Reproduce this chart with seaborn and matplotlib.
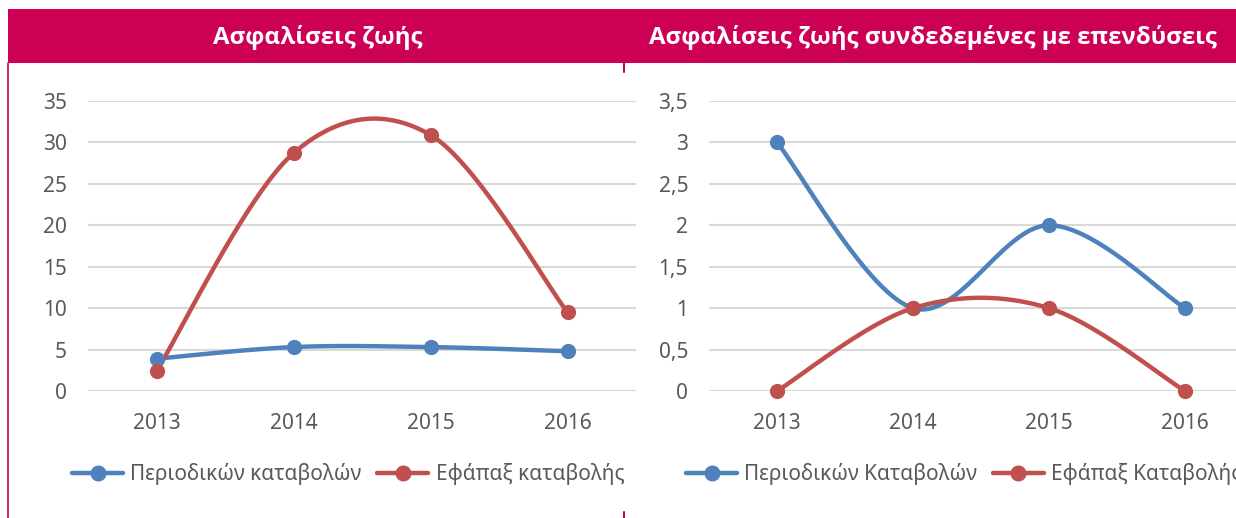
import numpy as np
import matplotlib
matplotlib.use('Agg')
import matplotlib.pyplot as plt
from matplotlib.lines import Line2D
from matplotlib.patches import Rectangle
import seaborn as sns

# data
years = ['2013', '2014', '2015', '2016']
life_periodic = [3.9, 5.3, 5.3, 4.8]
life_single = [2.4, 28.7, 30.9, 9.5]
unit_periodic = [3, 1, 2, 1]
unit_single = [0, 1, 1, 0]

left_title = 'Ασφαλίσεις ζωής'
right_title = 'Ασφαλίσεις ζωής συνδεδεμένες με επενδύσεις'
left_labels = ['Περιοδικών καταβολών', 'Εφάπαξ καταβολής']
right_labels = ['Περιοδικών Καταβολών', 'Εφάπαξ Καταβολής']
left_ticks = [0, 5, 10, 15, 20, 25, 30, 35]
right_ticks = [0, 0.5, 1, 1.5, 2, 2.5, 3, 3.5]

BLUE = '#4F81BD'
RED = '#C0504D'
MAGENTA = '#CC0055'
GRID = '#D9D9D9'
TXT = '#595959'

sns.set_theme(style='white')
plt.rcParams['font.family'] = ['Noto Sans', 'DejaVu Sans']


def smooth(vals, n=40):
    # Excel-style smoothed line (Catmull-Rom through the points)
    x = np.arange(len(vals), dtype=float)
    y = np.asarray(vals, dtype=float)
    px = np.concatenate([[x[0]], x, [x[-1]]])
    py = np.concatenate([[y[0]], y, [y[-1]]])
    t = np.linspace(0, 1, n)[:, None]
    xs, ys = [], []
    for i in range(1, len(px) - 2):
        p0 = np.array([px[i - 1], py[i - 1]])
        p1 = np.array([px[i], py[i]])
        p2 = np.array([px[i + 1], py[i + 1]])
        p3 = np.array([px[i + 2], py[i + 2]])
        c1 = p1 + (p2 - p0) / 6
        c2 = p2 - (p3 - p1) / 6
        b = ((1 - t) ** 3) * p1 + 3 * ((1 - t) ** 2) * t * c1 + 3 * (1 - t) * t ** 2 * c2 + t ** 3 * p2
        xs.extend(b[:, 0])
        ys.extend(b[:, 1])
    return np.array(xs), np.array(ys)


def draw(ax, series, ticks, fmt):
    for vals, color in series:
        sx, sy = smooth(vals)
        sns.lineplot(x=sx, y=sy, sort=False, estimator=None, color=color, lw=3.2, ax=ax)
        sns.scatterplot(x=np.arange(len(vals)), y=vals, color=color, s=120,
                        edgecolor=color, linewidth=0, ax=ax, clip_on=False, zorder=5)
    ax.set_xlim(-0.5, 3.5)
    ax.set_ylim(ticks[0], ticks[-1])
    ax.set_yticks(ticks)
    ax.set_yticklabels([fmt(v) for v in ticks])
    ax.set_xticks(range(len(years)))
    ax.set_xticklabels(years)
    ax.grid(axis='y', color=GRID, lw=1.5)
    ax.set_axisbelow(True)
    for s in ax.spines.values():
        s.set_visible(False)
    ax.tick_params(length=0, labelsize=15, colors=TXT)
    ax.tick_params(axis='x', pad=16)
    ax.tick_params(axis='y', pad=15)
    ax.patch.set_alpha(0)


fig = plt.figure(figsize=(12.36, 5.18), dpi=100)
W, H = 1236, 518

ax1 = fig.add_axes([88 / W, (H - 391) / H, 548 / W, 290 / H])
ax2 = fig.add_axes([709 / W, (H - 391) / H, 544 / W, 290 / H])

draw(ax1, [(life_periodic, BLUE), (life_single, RED)], left_ticks, lambda v: f'{v:g}')
draw(ax2, [(unit_periodic, BLUE), (unit_single, RED)], right_ticks,
     lambda v: f'{v:g}'.replace('.', ','))

# header bar and frame lines
fig.add_artist(Rectangle((8 / W, (H - 63) / H), (W - 8) / W, 54 / H,
                         transform=fig.transFigure, color=MAGENTA, lw=0))
fig.add_artist(Line2D([8 / W, 8 / W], [0, (H - 63) / H], transform=fig.transFigure,
                      color=MAGENTA, lw=1.2))
fig.add_artist(Line2D([624 / W, 624 / W], [(H - 72) / H, (H - 63) / H],
                      transform=fig.transFigure, color=MAGENTA, lw=1.5))
fig.add_artist(Line2D([624 / W, 624 / W], [0, 6 / H],
                      transform=fig.transFigure, color=MAGENTA, lw=1.5))

head_font = ['Open Sans', 'Roboto', 'DejaVu Sans']
fig.text(318 / W, (H - 37) / H, left_title, color='white', fontsize=17.3,
         fontweight='bold', family=head_font, ha='center', va='center')
fig.text(933 / W, (H - 37) / H, right_title, color='white', fontsize=17.3,
         fontweight='bold', family=head_font, ha='center', va='center')


def legend(ax, labels, x0):
    handles = [Line2D([], [], color=c, lw=3.2, marker='o', markersize=10.5)
               for c in (BLUE, RED)]
    ax.legend(handles, labels, loc='center left', bbox_to_anchor=(x0 / W, (H - 474) / H),
              bbox_transform=fig.transFigure, ncol=2, frameon=False, fontsize=15,
              labelcolor=TXT, handlelength=2.45, handletextpad=0.35, columnspacing=0.75,
              borderpad=0, borderaxespad=0)


legend(ax1, left_labels, 72)
legend(ax2, right_labels, 686)

fig.savefig('out.png', dpi=100)
